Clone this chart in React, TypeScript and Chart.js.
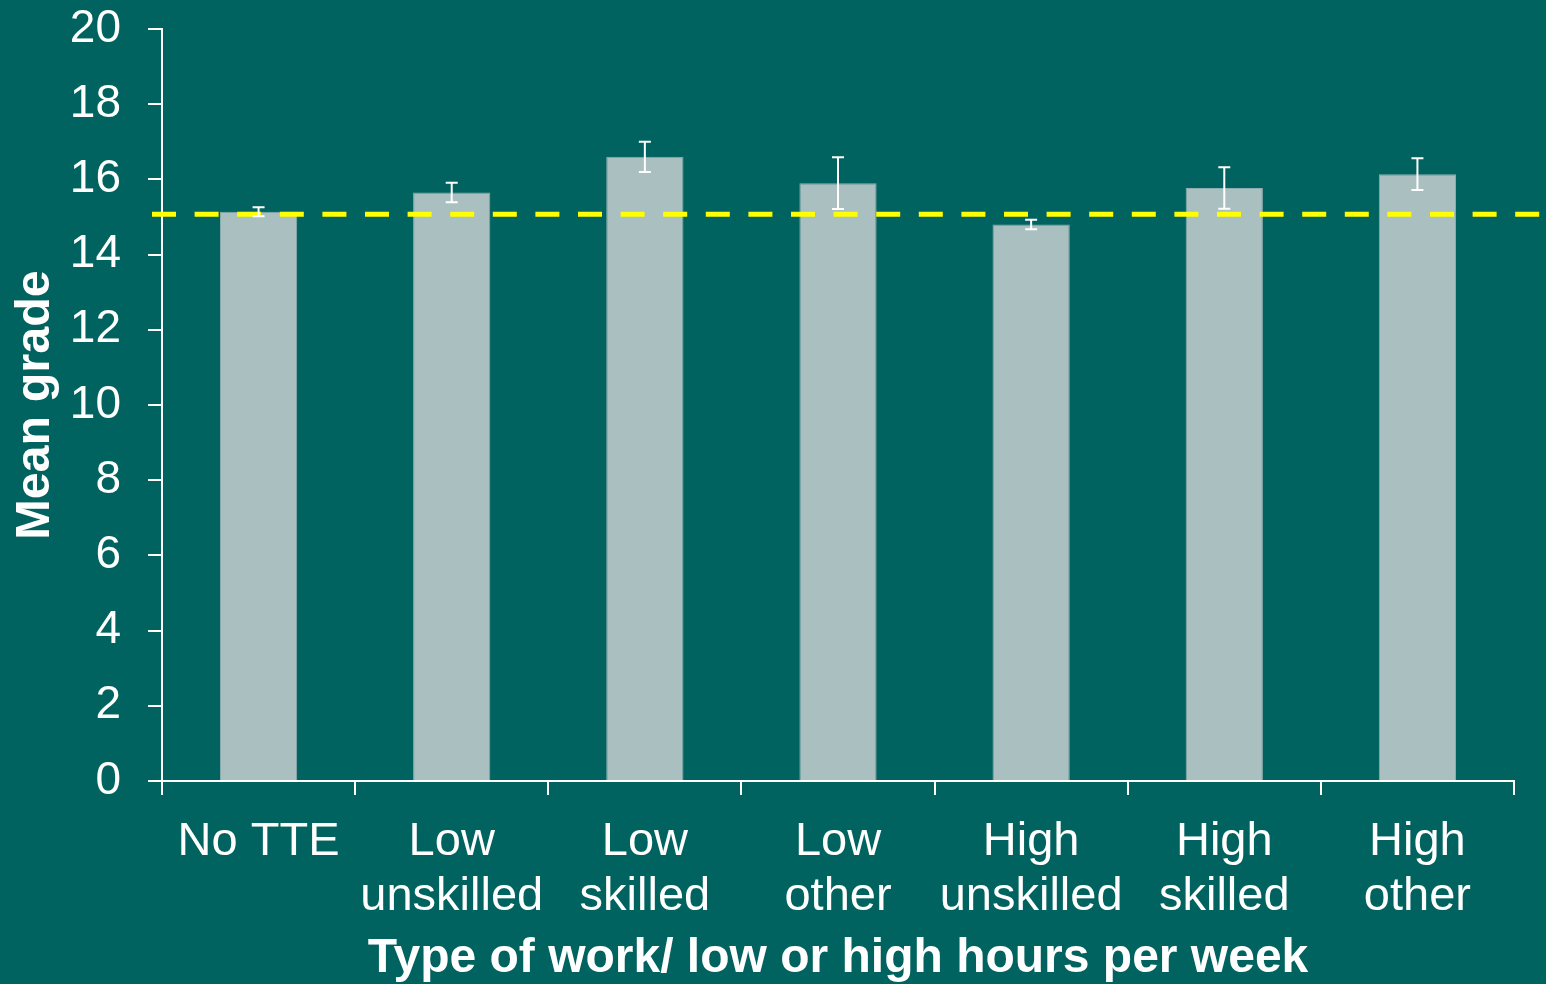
import React, { useEffect, useRef } from "react";
import { Chart, registerables } from "chart.js";

Chart.register(...registerables);

const categories: string[][] = [
  ["No TTE"],
  ["Low", "unskilled"],
  ["Low", "skilled"],
  ["Low", "other"],
  ["High", "unskilled"],
  ["High", "skilled"],
  ["High", "other"],
];
const meanGrades: number[] = [15.14, 15.65, 16.6, 15.9, 14.8, 15.77, 16.14];
const errorMargins: number[] = [0.12, 0.26, 0.4, 0.69, 0.125, 0.55, 0.42];
const referenceGrade = 15.07;
const yTicks: number[] = [0, 2, 4, 6, 8, 10, 12, 14, 16, 18, 20];

const BG = "#00635F";
const BAR = "#A9BFC0";
const FONT = "'Liberation Sans', Arial, sans-serif";

const overlayPlugin = {
  id: "overlay",
  afterDatasetsDraw(chart: any) {
    const ctx = chart.ctx;
    const y = chart.scales.y;
    const meta = chart.getDatasetMeta(0);
    // dashed reference line
    const ly = y.getPixelForValue(referenceGrade);
    ctx.save();
    ctx.strokeStyle = "#FFFF00";
    ctx.lineWidth = 5;
    ctx.setLineDash([24, 18.6]);
    ctx.beginPath();
    ctx.moveTo(152, ly);
    ctx.lineTo(chart.width, ly);
    ctx.stroke();
    ctx.restore();
    // error bars
    ctx.save();
    ctx.strokeStyle = "#FFFFFF";
    ctx.lineWidth = 2;
    meta.data.forEach((bar: any, i: number) => {
      const x = bar.x;
      const top = y.getPixelForValue(meanGrades[i] + errorMargins[i]);
      const bot = y.getPixelForValue(meanGrades[i] - errorMargins[i]);
      ctx.beginPath();
      ctx.moveTo(x, top);
      ctx.lineTo(x, bot);
      ctx.moveTo(x - 6, top);
      ctx.lineTo(x + 6, top);
      ctx.moveTo(x - 6, bot);
      ctx.lineTo(x + 6, bot);
      ctx.stroke();
    });
    ctx.restore();
  },
};

export default function App() {
  const ref = useRef<HTMLCanvasElement | null>(null);
  useEffect(() => {
    if (!ref.current) return;
    const chart = new Chart(ref.current, {
      type: "bar",
      data: {
        labels: categories,
        datasets: [
          {
            data: meanGrades,
            backgroundColor: BAR,
            borderColor: "#8FAEAF",
            borderWidth: 1,
            categoryPercentage: 1,
            barPercentage: 0.4,
          },
        ],
      },
      options: {
        animation: false,
        responsive: true,
        maintainAspectRatio: false,
        layout: { padding: { top: 29, right: 32, bottom: 0, left: 0 } },
        plugins: { legend: { display: false }, tooltip: { enabled: false } },
        scales: {
          x: {
            grid: {
              offset: true,
              drawOnChartArea: false,
              drawTicks: true,
              tickLength: 14,
              color: "#FFFFFF",
              lineWidth: 2,
            },
            border: { color: "#FFFFFF", width: 2 },
            ticks: {
              color: "#FFFFFF",
              padding: 20,
              maxRotation: 0,
              autoSkip: false,
              font: { family: FONT, size: 47, lineHeight: 1.17 },
            },
            title: {
              display: true,
              text: "Type of work/ low or high hours per week",
              color: "#FFFFFF",
              font: { family: FONT, size: 48, weight: "bold", lineHeight: 1 },
              padding: { top: 0, bottom: 1 },
            },
            afterFit(scale: any) {
              scale.height = 203;
              scale.paddingLeft = 0;
              scale.paddingRight = 0;
              scale.paddingTop = 0;
              scale.paddingBottom = 0;
            },
          },
          y: {
            min: 0,
            max: 20,
            afterBuildTicks(scale: any) {
              scale.ticks = yTicks.map((v) => ({ value: v }));
            },
            grid: {
              drawOnChartArea: false,
              drawTicks: true,
              tickLength: 14,
              color: "#FFFFFF",
              lineWidth: 2,
            },
            border: { color: "#FFFFFF", width: 2 },
            ticks: {
              color: "#FFFFFF",
              padding: 27,
              font: { family: FONT, size: 46, lineHeight: 1.2 },
            },
            title: {
              display: true,
              text: "Mean grade",
              color: "#FFFFFF",
              font: { family: FONT, size: 48.5, weight: "bold", lineHeight: 1 },
              padding: { top: 11, bottom: 0 },
            },
            afterFit(scale: any) {
              scale.width = 162;
              scale.paddingLeft = 0;
              scale.paddingRight = 0;
              scale.paddingTop = 0;
              scale.paddingBottom = 0;
            },
          },
        },
      },
      plugins: [overlayPlugin],
    } as any);
    return () => chart.destroy();
  }, []);
  return (
    <div
      style={{
        position: "fixed",
        left: 0,
        top: 0,
        width: 1546,
        height: 984,
        background: BG,
      }}
    >
      <canvas ref={ref} />
    </div>
  );
}
